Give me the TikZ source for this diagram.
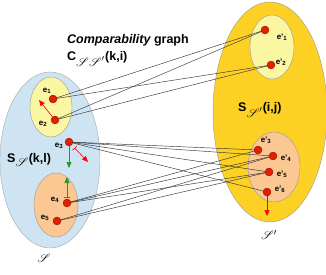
\documentclass[tikz,border=0pt]{standalone}
\usepackage{fontspec}
\setmainfont{Liberation Sans}
\usepackage{mathrsfs}
\usetikzlibrary{arrows.meta,shapes.geometric}
\pgfdeclarelayer{bg}
\pgfdeclarelayer{fg}
\pgfsetlayers{bg,main,fg}
\definecolor{lblue}{HTML}{CFE4F3}
\definecolor{lyel}{HTML}{FBF6A2}
\definecolor{peach}{HTML}{FBC793}
\definecolor{gold}{HTML}{FDD024}
\definecolor{dred}{HTML}{DD2200}
\definecolor{dgreen}{HTML}{1E9A1E}
\begin{document}
\begin{tikzpicture}[x=1pt,y=-1pt,
  blob/.style={ellipse,inner sep=0pt,line width=0.4pt},
  dot/.style={circle,fill=dred,draw=red!60!black,line width=0.3pt,inner sep=0pt,minimum size=8pt},
  lab/.style={font=\fontsize{8}{9}\selectfont\bfseries,inner sep=0pt},
  big/.style={font=\fontsize{12.5}{14}\selectfont\bfseries,inner sep=0pt,anchor=base west},
  edge/.style={draw=black!80,line width=0.45pt},
  rarr/.style={draw=red,line width=0.6pt,-{Triangle[length=6pt,width=5pt]}},
  garr/.style={draw=dgreen,line width=0.6pt,-{Triangle[length=6pt,width=5pt]}},
  scr/.style={font=\fontsize{13}{14}\selectfont,inner sep=0pt}]
\useasboundingbox (0,0) rectangle (326,275);
\begin{pgfonlayer}{bg}
\node[blob,fill=lblue,draw=black!35,minimum width=100pt,minimum height=176pt] (S) at (50,160) {};
\node[blob,fill=lyel,draw=black!40,minimum width=42pt,minimum height=60pt] (Y1) at (51,107) {};
\node[blob,fill=peach,draw=black!40,minimum width=44pt,minimum height=64pt] (O1) at (56,205) {};
\node[blob,fill=gold,draw=black!40,minimum width=114pt,minimum height=220pt] (T) at (270,112) {};
\node[blob,fill=lyel,draw=black!40,minimum width=44pt,minimum height=64pt] (Y2) at (272,47) {};
\node[blob,fill=peach,draw=black!40,minimum width=52pt,minimum height=70pt] (O2) at (274,167) {};
\end{pgfonlayer}
\begin{pgfonlayer}{fg}
\node[dot] (e1) at (53,99) {};
\node[dot] (e2) at (55,120) {};
\node[dot] (e3) at (69,142) {};
\node[dot] (e4) at (67,203) {};
\node[dot] (e5) at (57,221) {};
\node[dot] (f1) at (265,30) {};
\node[dot] (f2) at (271,65) {};
\node[dot] (f3) at (258,150) {};
\node[dot] (f4) at (273,156) {};
\node[dot] (f5) at (269,172) {};
\node[dot] (f6) at (267,192) {};
\end{pgfonlayer}
% connectors
\foreach \a/\b in {e1/f1,e1/f2,e2/f1,e2/f2,e3/f3,e3/f4,e3/f5,e3/f6,e4/f3,e4/f4,e4/f5,e5/f4,e5/f5}
  \draw[edge] (\a.center) -- (\b.center);
% arrows
\coordinate (a2) at (39,100);
\coordinate (a3) at (88,162);
\coordinate (g3) at (69,168);
\coordinate (g4) at (67,177);
\coordinate (a6) at (267,216);
\draw[rarr] (e2) -- (a2);
\draw[rarr,{Bar[width=6pt]}-{Triangle[length=6pt,width=5pt]},shorten <=4pt] (e3) -- (a3);
\draw[garr] (e3) -- (g3);
\draw[garr,{Bar[width=6pt]}-{Triangle[length=6pt,width=5pt]},shorten <=1pt] (e4) -- (g4);
\draw[rarr] (f6) -- (a6);
% labels
\node[lab] (l1) at (47,91) {e\textsubscript{1}};
\node[lab] (l2) at (43,124) {e\textsubscript{2}};
\node[lab] (l3) at (59,146) {e\textsubscript{3}};
\node[lab] (l4) at (55,200) {e\textsubscript{4}};
\node[lab] (l5) at (45,218) {e\textsubscript{5}};
\node[lab] (m1) at (282,37) {e'\textsubscript{1}};
\node[lab] (m2) at (281,62) {e'\textsubscript{2}};
\node[lab] (m3) at (266,140) {e'\textsubscript{3}};
\node[lab] (m4) at (286,158) {e'\textsubscript{4}};
\node[lab] (m5) at (282,174) {e'\textsubscript{5}};
\node[lab] (m6) at (280,189) {e'\textsubscript{6}};
\node[big] (t1) at (67,44) {\itshape Comparability\upshape{} graph};
\node[big] (t2) at (67,61) {C$_{\textstyle\mathscr{S}\mathscr{S}'}$(k,i)};
\node[big] (s1) at (7,162) {S$_{\textstyle\mathscr{S}}$(k,l)};
\node[big] (s2) at (238,112) {S$_{\textstyle\mathscr{S}'}$(i,j)};
\node[scr] (c1) at (44,258) {$\mathscr{S}$};
\node[scr] (c2) at (269,235) {$\mathscr{S}'$};
\end{tikzpicture}
\end{document}
